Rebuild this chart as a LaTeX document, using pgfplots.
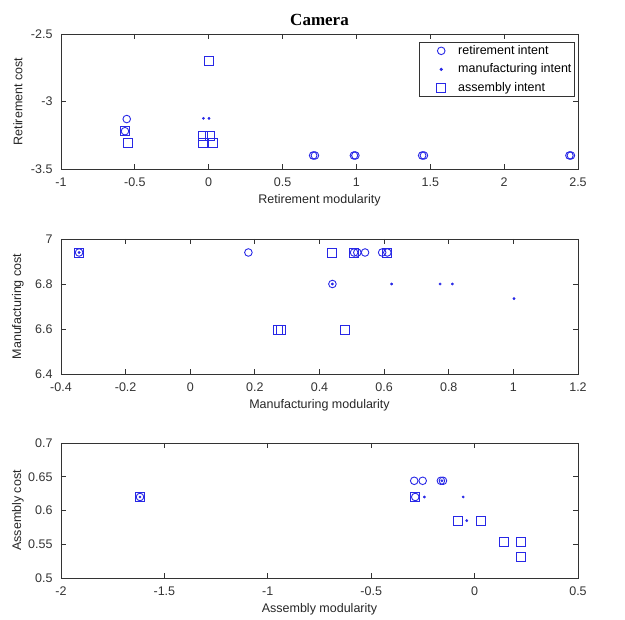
\documentclass[border=0pt]{standalone}
\usepackage{pgfplots}
\pgfplotsset{compat=1.18}
\usepackage{fontspec}
\setmainfont{Liberation Sans}
\newfontfamily\titlefont{Liberation Serif}
\definecolor{mblue}{RGB}{40,40,230}
\pgfplotsset{
  mataxis/.style={
    scale only axis, width=517pt, height=135pt, anchor=south west,
    axis line style={black!80, line width=0.8pt},
    tick style={black!80, line width=0.8pt},
    major tick length=5pt,
    tick align=inside,
    ticklabel style={font=\fontsize{12.5}{14}\selectfont, black!80},
    label style={font=\fontsize{12.5}{14}\selectfont, black!85},
    /pgf/number format/assume math mode=true,
    /pgf/number format/use period,
    scaled ticks=false,
    clip=false,
    xticklabel style={yshift=-5pt},
    yticklabel style={xshift=-5pt},
    xlabel style={at={(axis description cs:0.5,0)}, anchor=center, yshift=-31pt},
    ylabel style={at={(axis description cs:0,0.5)}, anchor=center, yshift=43pt, xshift=0pt},
  },
  ret/.style={only marks, mark=o, mark size=3.8pt, mblue, mark options={line width=0.9pt}},
  man/.style={only marks, mark=*, mark size=1.2pt, mblue},
  ass/.style={only marks, mark=square, mark size=4.5pt, mblue, mark options={line width=0.9pt}},
}
\begin{document}
\begin{tikzpicture}
\useasboundingbox (0pt,0pt) rectangle (625pt,620pt);
% ---------- Top ----------
\begin{axis}[mataxis, at={(61pt,451pt)},
  xmin=-1, xmax=2.5, ymin=-3.5, ymax=-2.5,
  xtick={-1,-0.5,0,0.5,1,1.5,2,2.5},
  ytick={-3.5,-3,-2.5},
  xlabel={Retirement modularity}, ylabel={Retirement cost},
  title={\titlefont\bfseries\fontsize{17}{19}\selectfont Camera},
  title style={at={(axis description cs:0.5,1)}, anchor=center, yshift=8pt},
  legend style={at={(0.994,0.943)}, anchor=north east, draw=black!80, line width=0.8pt,
    font=\fontsize{12.5}{14}\selectfont, row sep=3pt, inner sep=1pt,
    nodes={inner sep=2pt, text height=9pt, text depth=2.5pt}},
  legend cell align=left,
  legend image code/.code={\path[draw=none,fill=none] (0pt,0pt) -- (36pt,0pt); \draw[#1] plot[only marks] coordinates {(21pt,0pt)};},
]
\addplot[ret] coordinates {(-0.555,-3.13) (-0.567,-3.22) (0.707,-3.40) (0.719,-3.40) (0.983,-3.40) (0.993,-3.40) (1.445,-3.40) (1.457,-3.40) (2.442,-3.40) (2.452,-3.40)};
\addlegendentry{retirement intent}
\addplot[man] coordinates {(-0.036,-3.125) (0.002,-3.125)};
\addlegendentry{manufacturing intent}
\addplot[ass] coordinates {(0.004,-2.70) (-0.567,-3.22) (-0.548,-3.31) (-0.037,-3.255) (0.010,-3.255) (-0.037,-3.31) (0.027,-3.31)};
\addlegendentry{assembly intent}
\end{axis}
% ---------- Middle ----------
\begin{axis}[mataxis, at={(61pt,246pt)},
  xmin=-0.4, xmax=1.2, ymin=6.4, ymax=7,
  xtick={-0.4,-0.2,0,0.2,0.4,0.6,0.8,1,1.2},
  ytick={6.4,6.6,6.8,7},
  xlabel={Manufacturing modularity}, ylabel={Manufacturing cost},
]
\addplot[ret] coordinates {(-0.344,6.94) (0.180,6.94) (0.507,6.94) (0.517,6.94) (0.541,6.94) (0.594,6.94) (0.610,6.94) (0.440,6.80)};
\addplot[man] coordinates {(-0.344,6.94) (0.440,6.80) (0.623,6.80) (0.773,6.80) (0.811,6.80) (1.002,6.735)};
\addplot[ass] coordinates {(-0.344,6.94) (0.440,6.94) (0.507,6.94) (0.610,6.94) (0.272,6.594) (0.280,6.594) (0.479,6.594)};
\end{axis}
% ---------- Bottom ----------
\begin{axis}[mataxis, at={(61pt,42pt)},
  xmin=-2, xmax=0.5, ymin=0.5, ymax=0.7,
  xtick={-2,-1.5,-1,-0.5,0,0.5},
  ytick={0.5,0.55,0.6,0.65,0.7},
  yticklabel style={/pgf/number format/fixed, /pgf/number format/precision=2},
  xlabel={Assembly modularity}, ylabel={Assembly cost},
]
\addplot[ret] coordinates {(-1.618,0.62) (-0.292,0.644) (-0.251,0.644) (-0.163,0.644) (-0.153,0.644) (-0.287,0.62)};
\addplot[man] coordinates {(-1.618,0.62) (-0.158,0.644) (-0.243,0.62) (-0.055,0.62) (-0.038,0.585)};
\addplot[ass] coordinates {(-1.618,0.62) (-0.287,0.62) (-0.082,0.585) (0.030,0.585) (0.142,0.554) (0.223,0.554) (0.223,0.531)};
\end{axis}
\end{tikzpicture}
\end{document}
